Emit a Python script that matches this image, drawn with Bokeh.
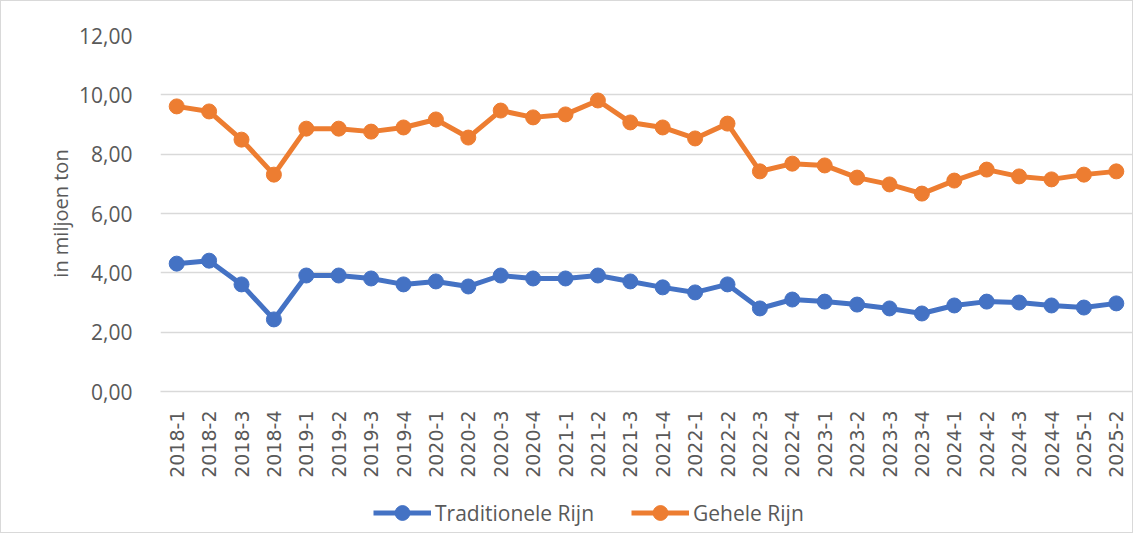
import math
from bokeh.plotting import figure
from bokeh.layouts import column
from bokeh.models import ColumnDataSource, Legend, LegendItem, FixedTicker
from bokeh.embed import file_html
from bokeh.resources import INLINE

categories = ["2018-1", "2018-2", "2018-3", "2018-4", "2019-1", "2019-2", "2019-3", "2019-4",
              "2020-1", "2020-2", "2020-3", "2020-4", "2021-1", "2021-2", "2021-3", "2021-4",
              "2022-1", "2022-2", "2022-3", "2022-4", "2023-1", "2023-2", "2023-3", "2023-4",
              "2024-1", "2024-2", "2024-3", "2024-4", "2025-1", "2025-2"]

traditionele_rijn = [4.31, 4.41, 3.61, 2.43, 3.91, 3.91, 3.81, 3.61, 3.71, 3.54, 3.91, 3.81,
                     3.81, 3.91, 3.71, 3.51, 3.34, 3.61, 2.80, 3.10, 3.03, 2.93, 2.80, 2.63,
                     2.90, 3.03, 3.00, 2.90, 2.83, 2.97]

gehele_rijn = [9.61, 9.44, 8.49, 7.31, 8.86, 8.86, 8.76, 8.90, 9.17, 8.56, 9.47, 9.24,
               9.34, 9.81, 9.07, 8.90, 8.53, 9.03, 7.42, 7.68, 7.62, 7.21, 6.98, 6.67,
               7.11, 7.48, 7.25, 7.15, 7.31, 7.42]

y_ticks = [0, 2, 4, 6, 8, 10, 12]
y_tick_labels = ["0,00", "2,00", "4,00", "6,00", "8,00", "10,00", "12,00"]

series_names = ["Traditionele Rijn", "Gehele Rijn"]
series_colors = ["#4472C4", "#ED7D31"]

FONT = "Open Sans"
GREY = "#595959"

p = figure(x_range=categories, y_range=(0, 12), width=1131, height=482,
           output_backend="svg", toolbar_location=None,
           min_border_left=159, min_border_right=0, min_border_top=34, min_border_bottom=92)
p.outline_line_color = None

source = ColumnDataSource(dict(cat=categories, trad=traditionele_rijn, geh=gehele_rijn))

for col, color in zip(["trad", "geh"], series_colors):
    p.line("cat", col, source=source, line_color=color, line_width=5)
    p.scatter("cat", col, source=source, size=15, fill_color=color, line_color=color)

# y axis
p.yaxis.ticker = FixedTicker(ticks=y_ticks)
p.yaxis.major_label_overrides = {t: lab for t, lab in zip(y_ticks, y_tick_labels)}
p.yaxis.axis_line_color = None
p.yaxis.major_tick_line_color = None
p.yaxis.minor_tick_line_color = None
p.yaxis.major_label_standoff = 22
p.yaxis.major_label_text_font = FONT
p.yaxis.major_label_text_font_size = "21px"
p.yaxis.major_label_text_color = GREY
p.yaxis.axis_label = "in miljoen ton"
p.yaxis.axis_label_text_font = FONT
p.yaxis.axis_label_text_font_size = "20px"
p.yaxis.axis_label_text_font_style = "normal"
p.yaxis.axis_label_text_color = GREY
p.yaxis.axis_label_standoff = 2

# x axis
p.xaxis.axis_line_color = "#d9d9d9"
p.xaxis.axis_line_width = 1.5
p.xaxis.major_tick_line_color = None
p.xaxis.minor_tick_line_color = None
p.xaxis.major_label_orientation = math.pi / 2
p.xaxis.major_label_standoff = 13
p.xaxis.major_label_text_font = "DejaVu Sans"
p.xaxis.major_label_text_font_size = "19px"
p.xaxis.major_label_text_color = GREY

p.xgrid.grid_line_color = None
p.ygrid.grid_line_color = "#d9d9d9"
p.ygrid.grid_line_width = 1.5

# legend strip below the chart (its frame is aligned with the chart frame)
lp = figure(width=1131, height=49, x_range=(0, 1), y_range=(0, 1),
            output_backend="svg", toolbar_location=None,
            min_border_left=0, min_border_right=0, min_border_top=0, min_border_bottom=0)
lp.axis.visible = False
lp.grid.visible = False
lp.outline_line_color = None

items = []
offscreen = ColumnDataSource(dict(x=[-10, -11], y=[-10, -11]))
for name, color in zip(series_names, series_colors):
    l = lp.line("x", "y", source=offscreen, line_color=color, line_width=5)
    s = lp.scatter("x", "y", source=offscreen, size=15, fill_color=color, line_color=color)
    items.append(LegendItem(label=name, renderers=[l, s]))

legend = Legend(items=items, orientation="horizontal", location=(213, 1),
                label_text_font=FONT, label_text_font_size="21px", label_text_color=GREY,
                glyph_width=58, glyph_height=37, label_height=37, label_standoff=4, spacing=37,
                padding=0, margin=0, border_line_color=None, background_fill_alpha=0)
lp.add_layout(legend)

layout = column(p, lp, spacing=0)
layout.styles = {"border": "1px solid #d9d9d9"}

open("out.html", "w").write(file_html(layout, INLINE))
